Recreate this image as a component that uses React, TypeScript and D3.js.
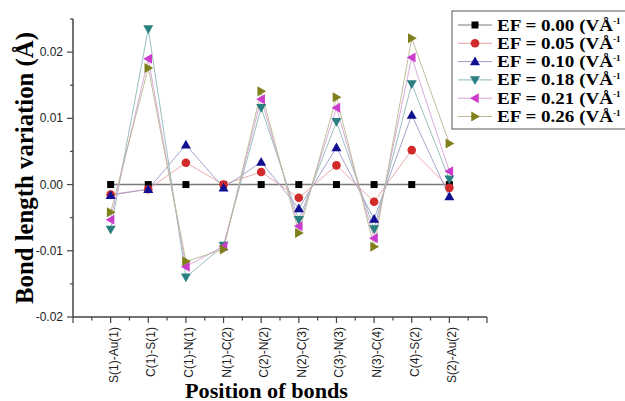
import React from "react";
import * as d3 from "d3";

// Bond positions along the chain
const bonds = [
  "S(1)-Au(1)", "C(1)-S(1)", "C(1)-N(1)", "N(1)-C(2)", "C(2)-N(2)",
  "N(2)-C(3)", "C(3)-N(3)", "N(3)-C(4)", "C(4)-S(2)", "S(2)-Au(2)",
];

// Bond length variation (Å) for each applied field
const ef000 = [0, 0, 0, 0, 0, 0, 0, 0, 0, 0];
const ef005 = [-0.0015, -0.0007, 0.0033, 0.0, 0.0019, -0.002, 0.0029, -0.0026, 0.0052, -0.0005];
const ef010 = [-0.0016, -0.0007, 0.006, -0.0005, 0.0034, -0.0036, 0.0056, -0.0052, 0.0105, -0.0018];
const ef018 = [-0.0068, 0.0235, -0.014, -0.0092, 0.0116, -0.0053, 0.0095, -0.0067, 0.0152, 0.0008];
const ef021 = [-0.0053, 0.019, -0.0124, -0.0093, 0.0129, -0.0063, 0.0116, -0.0081, 0.0192, 0.002];
const ef026 = [-0.0042, 0.0176, -0.0116, -0.0098, 0.0141, -0.0073, 0.0132, -0.0094, 0.0221, 0.0062];

const fieldLabels = ["0.00", "0.05", "0.10", "0.18", "0.21", "0.26"];
const yTicks = [-0.02, -0.01, 0.0, 0.01, 0.02];

type Sym = "square" | "circle" | "up" | "down" | "left" | "right";
const series: { values: number[]; color: string; line: string; sym: Sym }[] = [
  { values: ef000, color: "#000000", line: "#7a7a7a", sym: "square" },
  { values: ef005, color: "#d22a2a", line: "#e7a0a0", sym: "circle" },
  { values: ef010, color: "#101090", line: "#9a9ac8", sym: "up" },
  { values: ef018, color: "#2a7f80", line: "#8cb8b8", sym: "down" },
  { values: ef021, color: "#cc3ccc", line: "#d8a0d8", sym: "left" },
  { values: ef026, color: "#7f7f1e", line: "#b8b890", sym: "right" },
];

const W = 625;
const H = 401;
const left = 73;
const right = 487;
const top = 19;
const bottom = 317;

function Marker({ sym, x, y, color }: { sym: Sym; x: number; y: number; color: string }) {
  const s = 5;
  if (sym === "square") return <rect x={x - 3.5} y={y - 3.5} width={7} height={7} fill={color} />;
  if (sym === "circle") return <circle cx={x} cy={y} r={4.3} fill={color} />;
  let pts: number[][] = [];
  if (sym === "up") pts = [[0, -s], [s, s * 0.75], [-s, s * 0.75]];
  if (sym === "down") pts = [[0, s], [s, -s * 0.75], [-s, -s * 0.75]];
  if (sym === "left") pts = [[-s, 0], [s * 0.75, -s], [s * 0.75, s]];
  if (sym === "right") pts = [[s, 0], [-s * 0.75, -s], [-s * 0.75, s]];
  return <polygon points={pts.map((p) => `${x + p[0]},${y + p[1]}`).join(" ")} fill={color} />;
}

export default function App() {
  const x = d3.scaleLinear().domain([0, 11]).range([left, right]);
  const y = d3.scaleLinear().domain([-0.02, 0.025]).range([bottom, top]);
  const line = d3
    .line<number>()
    .x((_, i) => x(i + 1))
    .y((v) => y(v));

  const minorY = d3.range(-0.015, 0.026, 0.01);
  const majorX = d3.range(0, 12);
  const minorX = d3.range(0.5, 11, 1);

  const axisColor = "#444";
  const sans = "Arial, 'Liberation Sans', sans-serif";
  const serif = "'Times New Roman', 'Liberation Serif', serif";

  return (
    <svg
      width={W}
      height={H}
      style={{ position: "fixed", left: 0, top: 0, background: "#fff" }}
    >
      <rect width={W} height={H} fill="#fff" />

      {/* connecting lines */}
      {series.map((s, k) => (
        <path
          key={"l" + k}
          d={line(s.values) || ""}
          fill="none"
          stroke={s.line}
          strokeWidth={k === 0 ? 1.5 : 0.9}
        />
      ))}

      {/* markers */}
      {series.map((s, k) =>
        s.values.map((v, i) => (
          <Marker key={`m${k}-${i}`} sym={s.sym} x={x(i + 1)} y={y(v)} color={s.color} />
        ))
      )}

      {/* y axis */}
      <line x1={left} x2={left} y1={top} y2={bottom} stroke={axisColor} strokeWidth={1.5} />
      {yTicks.map((t) => (
        <g key={"yt" + t}>
          <line x1={left - 6} x2={left} y1={y(t)} y2={y(t)} stroke={axisColor} strokeWidth={1.2} />
          <text
            x={left - 10}
            y={y(t) + 4}
            textAnchor="end"
            fontFamily={sans}
            fontSize={12}
            fill="#222"
          >
            {t.toFixed(2)}
          </text>
        </g>
      ))}
      {minorY.map((t) => (
        <line key={"ym" + t} x1={left - 3} x2={left} y1={y(t)} y2={y(t)} stroke={axisColor} strokeWidth={1.2} />
      ))}

      {/* x axis */}
      <line x1={left} x2={right} y1={bottom} y2={bottom} stroke={axisColor} strokeWidth={1.5} />
      {majorX.map((t) => (
        <line key={"xt" + t} x1={x(t)} x2={x(t)} y1={bottom} y2={bottom + 6} stroke={axisColor} strokeWidth={1.2} />
      ))}
      {minorX.map((t) => (
        <line key={"xm" + t} x1={x(t)} x2={x(t)} y1={bottom} y2={bottom + 3.5} stroke={axisColor} strokeWidth={1.2} />
      ))}
      {bonds.map((b, i) => (
        <text
          key={"xl" + i}
          transform={`translate(${x(i + 1) + 7},${bottom + 10}) rotate(-90)`}
          textAnchor="end"
          fontFamily={sans}
          fontSize={12}
          fill="#222"
        >
          {b}
        </text>
      ))}

      {/* axis titles */}
      <text
        transform={`translate(33,168) rotate(-90)`}
        textAnchor="middle"
        fontFamily={serif}
        fontWeight="bold"
        fontSize={26}
        textLength={272}
        lengthAdjust="spacingAndGlyphs"
        fill="#000"
      >
        Bond length variation (Å)
      </text>
      <text
        x={185}
        y={398}
        fontFamily={serif}
        fontWeight="bold"
        fontSize={20}
        textLength={163}
        lengthAdjust="spacingAndGlyphs"
        fill="#000"
      >
        Position of bonds
      </text>

      {/* legend */}
      <rect x={452} y={11} width={200} height={118} fill="#fff" stroke="#555" strokeWidth={1} />
      {series.map((s, k) => {
        const ly = 25 + k * 18.3;
        return (
          <g key={"lg" + k}>
            <line x1={458} x2={492} y1={ly} y2={ly} stroke={s.line} strokeWidth={1} />
            <Marker sym={s.sym} x={475} y={ly} color={s.color} />
            <text
              x={497}
              y={ly + 5.5}
              fontFamily={serif}
              fontWeight="bold"
              fontSize={16}
              textLength={116}
              lengthAdjust="spacingAndGlyphs"
              fill="#000"
            >
              {`EF = ${fieldLabels[k]} (VÅ`}
            </text>
            <text x={613} y={ly - 1} fontFamily={serif} fontWeight="bold" fontSize={9} fill="#000">
              -1
            </text>
          </g>
        );
      })}
    </svg>
  );
}
